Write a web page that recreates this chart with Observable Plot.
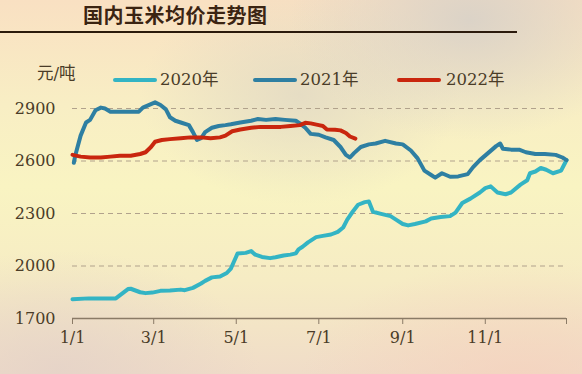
<!DOCTYPE html>
<html><head><meta charset="utf-8">
<script src="https://cdn.jsdelivr.net/npm/d3@7"></script>
<script src="https://cdn.jsdelivr.net/npm/@observablehq/plot@0.6"></script>
<style>
body{margin:0;}
#wrap{position:relative;width:582px;height:374px;overflow:hidden;
background:
 radial-gradient(ellipse 180px 120px at 470px 20px, rgba(214,208,200,0.85), rgba(214,208,200,0) 100%),
 radial-gradient(ellipse 160px 110px at 300px 95px, rgba(222,214,196,0.7), rgba(222,214,196,0) 100%),
 radial-gradient(ellipse 200px 120px at 60px 370px, rgba(228,210,200,0.8), rgba(228,210,200,0) 100%),
 radial-gradient(ellipse 220px 120px at 520px 380px, rgba(245,210,190,0.8), rgba(245,210,190,0) 100%),
 linear-gradient(180deg,#f9e0c2 0%,#f8eec4 28%,#f9f4c2 50%,#f6ecc4 75%,#f0dcc8 100%);}
.t{position:absolute;white-space:nowrap;font-family:"DejaVu Serif","Liberation Serif",serif,"Noto Sans CJK SC";color:#4a3c28;}
.sw{position:absolute;height:4px;border-radius:2px;}
</style></head><body><div id="wrap"></div><script>
const seriesNames = ["2020年","2021年","2022年"];
const seriesColors = ["#33b4c4","#2e7fa2","#c9260e"];

const days2020 = [0,12,32,41,43,50,54,59,65,72,80,83,89,95,98,103,109,114,117,119,122,128,132,135,140,146,150,156,161,165,167,170,174,180,185,191,196,200,203,207,211,216,219,222,228,235,239,244,248,253,261,265,272,279,283,288,294,301,305,309,314,320,324,331,336,338,342,346,350,355,361,364,365];
const price2020 = [1810,1815,1815,1868,1870,1850,1845,1848,1858,1860,1865,1862,1875,1900,1915,1935,1940,1960,1985,2020,2072,2075,2085,2065,2052,2045,2050,2060,2065,2072,2095,2110,2135,2165,2172,2180,2195,2220,2265,2310,2350,2365,2368,2310,2298,2285,2265,2240,2232,2240,2255,2272,2280,2285,2305,2360,2385,2420,2445,2455,2420,2410,2420,2465,2490,2530,2540,2560,2550,2530,2545,2590,2605];

const days2021 = [1,2,6,10,13,17,21,24,28,49,52,58,61,65,69,72,76,80,86,89,92,95,98,103,108,113,117,124,132,137,143,150,157,165,168,172,176,182,187,193,198,202,205,208,213,219,224,231,239,244,250,255,260,265,268,273,279,285,292,296,301,307,313,316,318,324,330,335,342,349,357,362,365];
const price2021 = [2590,2630,2745,2820,2835,2890,2905,2900,2882,2882,2905,2925,2935,2920,2895,2850,2830,2820,2805,2765,2720,2730,2765,2790,2800,2805,2810,2820,2830,2840,2835,2840,2835,2830,2815,2790,2755,2750,2735,2720,2680,2635,2620,2645,2680,2695,2700,2715,2700,2695,2660,2615,2545,2520,2505,2530,2510,2512,2525,2565,2605,2645,2685,2700,2670,2665,2665,2650,2640,2640,2635,2620,2605];

const days2022 = [0,6,13,21,28,35,43,50,54,58,61,66,72,80,87,95,102,109,113,118,124,132,139,154,161,168,172,176,182,185,188,194,198,202,205,209];
const price2022 = [2635,2625,2620,2620,2625,2630,2630,2640,2650,2680,2710,2720,2725,2730,2735,2735,2730,2735,2745,2770,2780,2790,2795,2795,2800,2805,2818,2815,2805,2800,2780,2778,2775,2760,2740,2728];

const yTicks = [1700,2000,2300,2600,2900];
const gridValues = [2000,2300,2600,2900];
const tickDays = [0,60,121,182,244,305,365];
const tickLabels = ["1/1","3/1","5/1","7/1","9/1","11/1",""];

const series = [
  {name: seriesNames[0], days: days2020, values: price2020},
  {name: seriesNames[1], days: days2021, values: price2021},
  {name: seriesNames[2], days: days2022, values: price2022}
];
const rows = [];
series.forEach(s => s.days.forEach((d, i) => rows.push({year: s.name, day: d, price: s.values[i]})));
const labelByDay = new Map(tickDays.map((d, i) => [d, tickLabels[i]]));
const FONT = '"DejaVu Serif","Liberation Serif",serif';

const chart = Plot.plot({
  width: 582, height: 374,
  marginLeft: 72, marginRight: 16, marginTop: 108, marginBottom: 56,
  style: {background: "transparent", fontFamily: FONT, fontSize: "16px", color: "#4a3c28", overflow: "visible"},
  x: {domain: [0, 365]},
  y: {domain: [1700, 2900]},
  color: {domain: seriesNames, range: seriesColors},
  marks: [
    Plot.ruleY(gridValues, {stroke: "#b1a28c", strokeDasharray: "5,4", strokeWidth: 1}),
    Plot.axisY({ticks: yTicks, tickFormat: d => String(d), tickSize: 0, tickPadding: 17, fontSize: 16, label: null}),
    Plot.axisX({ticks: tickDays, tickFormat: d => labelByDay.get(d), tickSize: 6, tickPadding: 7, fontSize: 16, label: null, stroke: "#8a7a66", strokeOpacity: 1}),
    Plot.ruleY([1700], {stroke: "#8a7a66", strokeWidth: 1.5}),
    Plot.line(rows, {x: "day", y: "price", z: "year", stroke: "year", strokeWidth: 4, strokeLinejoin: "round", strokeLinecap: "round"})
  ]
});
const wrap = document.getElementById("wrap");
chart.style.position = "absolute";
chart.style.left = "0px";
chart.style.top = "0px";
wrap.appendChild(chart);

function addText(txt, left, top, size, extra) {
  const d = document.createElement("div");
  d.className = "t";
  d.textContent = txt;
  d.style.left = left + "px";
  d.style.top = top + "px";
  d.style.fontSize = size + "px";
  d.style.lineHeight = "20px";
  if (extra) Object.assign(d.style, extra);
  wrap.appendChild(d);
}
addText("国内玉米均价走势图", 83, 5, 20, {fontFamily: '"Noto Sans CJK SC",sans-serif', fontWeight: "700", color: "#3b2412", letterSpacing: "0.5px"});
const rule = document.createElement("div");
Object.assign(rule.style, {position: "absolute", left: "0px", top: "31px", width: "517px", height: "1.5px", background: "#2b1a0c"});
wrap.appendChild(rule);
addText("元/吨", 37, 64, 16.5);

const swLeft = [113, 253, 397];
const txtLeft = [160, 300, 446];
seriesNames.forEach((n, i) => {
  const s = document.createElement("div");
  s.className = "sw";
  Object.assign(s.style, {left: swLeft[i] + "px", top: "78px", width: "44px", background: seriesColors[i]});
  wrap.appendChild(s);
  addText(n, txtLeft[i], 70, 16.5);
});
</script></body></html>
